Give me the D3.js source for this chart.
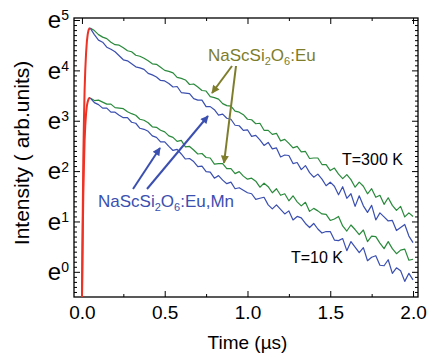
<!DOCTYPE html>
<html>
<head>
<meta charset="utf-8">
<script src="https://cdn.jsdelivr.net/npm/d3@7"></script>
<style>
  body { margin: 0; background: #fff; }
  svg { display: block; font-family: Arial, "Liberation Sans", sans-serif; }
  .tick line { stroke: #000; stroke-width: 1; }
</style>
</head>
<body>
<svg id="chart" width="428" height="356"></svg>
<script>
// sampling of the decay traces (µs)
const sampleStart = 0.05;
const sampleStep = 0.025;

// ln(intensity), T = 300 K
const euHot   = [4.84,4.79,4.71,4.66,4.63,4.56,4.51,4.50,4.45,4.39, 4.37,4.30,4.28,4.24,4.19,4.13,4.12,4.06,4.00,3.98, 3.95,3.86,3.84,3.81,3.72,3.73,3.67,3.60,3.59,3.48, 3.46,3.43,3.34,3.30,3.29,3.19,3.17,3.12,3.03,3.02, 2.94,2.95,2.81,2.81,2.73,2.75,2.60,2.63,2.55,2.46, 2.49,2.38,2.39,2.25,2.26,2.26,2.13,2.13,2.01,2.06, 1.94,1.85,1.93,1.83,1.68,1.78,1.70,1.55,1.65,1.48, 1.52,1.34,1.47,1.32,1.22,1.30,1.09,1.17,1.10];
const euMnHot = [4.84,4.71,4.60,4.56,4.46,4.42,4.37,4.29,4.21,4.19, 4.13,4.07,4.05,4.02,3.94,3.91,3.87,3.80,3.79,3.74, 3.67,3.68,3.56,3.55,3.54,3.44,3.41,3.41,3.28,3.28, 3.22,3.11,3.13,3.05,3.03,2.91,2.90,2.81,2.82,2.69, 2.71,2.62,2.51,2.57,2.44,2.46,2.28,2.32,2.31,2.15, 2.17,2.03,2.11,1.97,1.88,1.94,1.84,1.71,1.78,1.70, 1.53,1.69,1.46,1.55,1.30,1.51,1.31,1.18,1.32,1.03, 1.17,1.09,1.01,1.02,0.82,0.88,0.94,0.71,0.58];
// T = 10 K
const euCold   = [3.45,3.40,3.41,3.37,3.33,3.33,3.26,3.25,3.24,3.18, 3.14,3.11,3.03,3.01,2.96,2.88,2.87,2.81,2.78,2.70, 2.67,2.59,2.61,2.48,2.49,2.42,2.34,2.35,2.27,2.26, 2.14,2.15,2.15,2.05,2.05,1.95,1.99,1.90,1.84,1.86, 1.80,1.68,1.76,1.69,1.57,1.65,1.52,1.55,1.41,1.51, 1.39,1.31,1.38,1.20,1.26,1.21,1.15,1.14,1.02,1.05, 1.10,0.91,0.81,0.93,0.84,0.74,0.83,0.60,0.71,0.70, 0.57,0.46,0.60,0.46,0.36,0.43,0.45,0.23,0.25];
const euMnCold = [3.45,3.36,3.32,3.25,3.25,3.17,3.17,3.11,3.06,3.06, 2.97,2.95,2.85,2.83,2.79,2.70,2.67,2.58,2.58,2.49, 2.41,2.43,2.34,2.24,2.25,2.19,2.09,2.10,1.99,1.98, 1.86,1.91,1.82,1.75,1.78,1.65,1.67,1.62,1.57,1.55, 1.44,1.46,1.48,1.33,1.25,1.33,1.24,1.15,1.21,1.03, 1.10,1.07,0.96,0.88,0.96,0.85,0.77,0.80,0.80,0.63, 0.62,0.66,0.42,0.60,0.49,0.38,0.48,0.22,0.29,0.32, 0.13,0.12,0.24,-0.03,0.08,0.02,-0.19,-0.03,-0.16];

// excitation rise (red)
const riseTime = [0.000,0.004,0.008,0.012,0.016,0.020,0.025,0.030,0.035,0.040,0.045,0.050];
const riseHot  = [-0.6,0.9,2.2,3.0,3.6,4.0,4.35,4.58,4.72,4.80,4.83,4.84];
const riseCold = [-0.6,0.5,1.5,2.1,2.6,2.9,3.15,3.30,3.38,3.43,3.45,3.45];

const xMajor = [0, 0.5, 1.0, 1.5, 2.0];
const xMinor = [0.25, 0.75, 1.25, 1.75];
const yMajor = [0, 1, 2, 3, 4, 5];

const margin = { top: 18, right: 10, bottom: 59, left: 74 };
const svg = d3.select('#chart');
const width = +svg.attr('width') - margin.left - margin.right;
const height = +svg.attr('height') - margin.top - margin.bottom;

const x = d3.scaleLinear().domain([-0.048, 2.03]).range([0, width]);
const y = d3.scaleLinear().domain([-0.5, 5.04]).range([height, 0]);

const yMinor = d3.range(-0.4, 5.04, 0.1).filter(v => Math.abs(v - Math.round(v)) > 0.01);

const g = svg.append('g').attr('transform', `translate(${margin.left},${margin.top})`);

svg.append('defs').append('clipPath').attr('id', 'clip')
  .append('rect').attr('width', width).attr('height', height);

// axes, ticks pointing inward
const addAxis = (axis, tr) => {
  const a = g.append('g').attr('transform', tr).call(axis);
  a.select('.domain').remove();
  return a;
};

const xb = addAxis(d3.axisBottom(x).tickValues(xMajor).tickSizeInner(-6).tickSizeOuter(0)
  .tickPadding(9).tickFormat(d3.format('.1f')), `translate(0,${height})`);
xb.selectAll('text').attr('font-size', 19).attr('fill', '#000');
addAxis(d3.axisBottom(x).tickValues(xMinor).tickSizeInner(-3).tickFormat(''), `translate(0,${height})`);
addAxis(d3.axisTop(x).tickValues(xMajor).tickSizeInner(-6).tickFormat(''), 'translate(0,0)');
addAxis(d3.axisTop(x).tickValues(xMinor).tickSizeInner(-3).tickFormat(''), 'translate(0,0)');

const yl = addAxis(d3.axisLeft(y).tickValues(yMajor).tickSizeInner(-6).tickSizeOuter(0).tickPadding(5), 'translate(0,0)');
yl.selectAll('.tick text').each(function(d) {
  const t = d3.select(this).text(null).attr('fill', '#000').attr('font-size', 24).attr('dy', '0.32em');
  t.append('tspan').text('e');
  t.append('tspan').attr('font-size', 14).attr('dy', '-0.55em').text(d);
});
addAxis(d3.axisLeft(y).tickValues(yMinor).tickSizeInner(-3).tickFormat(''), 'translate(0,0)');
addAxis(d3.axisRight(y).tickValues(yMajor).tickSizeInner(-6).tickFormat(''), `translate(${width},0)`);
addAxis(d3.axisRight(y).tickValues(yMinor).tickSizeInner(-3).tickFormat(''), `translate(${width},0)`);

g.append('rect').attr('width', width).attr('height', height)
  .attr('fill', 'none').attr('stroke', '#000').attr('stroke-width', 1.3);

// traces
const plot = g.append('g').attr('clip-path', 'url(#clip)');
const line = d3.line().x(d => x(d[0])).y(d => y(d[1]));
const trace = vals => vals.map((v, i) => [sampleStart + i * sampleStep, v]);

const series = [
  { data: trace(euHot), color: '#2a8a3c' },
  { data: trace(euMnHot), color: '#3a4fb0' },
  { data: trace(euCold), color: '#2a8a3c' },
  { data: trace(euMnCold), color: '#3a4fb0' }
];
plot.selectAll('path.trace').data(series).enter().append('path')
  .attr('class', 'trace')
  .attr('d', d => line(d.data))
  .attr('fill', 'none').attr('stroke', d => d.color).attr('stroke-width', 1.2)
  .attr('stroke-linejoin', 'round');

[riseHot, riseCold].forEach(r => {
  plot.append('path')
    .attr('d', line(riseTime.map((t, i) => [t, r[i]])))
    .attr('fill', 'none').attr('stroke', '#ee3224').attr('stroke-width', 2);
});

// annotations
const defs = svg.select('defs');
const marker = (id, color) => defs.append('marker').attr('id', id)
  .attr('viewBox', '0 0 10 10').attr('refX', 9).attr('refY', 5)
  .attr('markerWidth', 10).attr('markerHeight', 8).attr('markerUnits', 'userSpaceOnUse')
  .attr('orient', 'auto')
  .append('path').attr('d', 'M0,0 L10,5 L0,10 Z').attr('fill', color);
const olive = '#7d7d2c';
const blue = '#3a4fb0';
marker('headOlive', olive);
marker('headBlue', blue);

const arrow = (x1, y1, x2, y2, color, id) => svg.append('line')
  .attr('x1', x1).attr('y1', y1).attr('x2', x2).attr('y2', y2)
  .attr('stroke', color).attr('stroke-width', 2).attr('marker-end', `url(#${id})`);

arrow(232, 66, 212, 93, olive, 'headOlive');
arrow(236, 66, 224, 163, olive, 'headOlive');
arrow(133, 189, 160, 148, blue, 'headBlue');
arrow(147, 189, 208, 116, blue, 'headBlue');

const formula = (tx, ty, color, tail) => {
  const t = svg.append('text').attr('x', tx).attr('y', ty).attr('fill', color).attr('font-size', 17);
  t.append('tspan').text('NaScSi');
  t.append('tspan').attr('font-size', 11).attr('dy', 4).text('2');
  t.append('tspan').attr('dy', -4).text('O');
  t.append('tspan').attr('font-size', 11).attr('dy', 4).text('6');
  t.append('tspan').attr('dy', -4).text(tail);
};
formula(208, 61, olive, ':Eu');
formula(98, 207, blue, ':Eu,Mn');

svg.append('text').attr('x', 342).attr('y', 165).attr('font-size', 16).text('T=300 K');
svg.append('text').attr('x', 291).attr('y', 263).attr('font-size', 16).text('T=10 K');

// axis titles
svg.append('text').attr('x', margin.left + x(1.0)).attr('y', 349)
  .attr('text-anchor', 'middle').attr('font-size', 19).text('Time (µs)');
svg.append('text').attr('transform', 'translate(29,153) rotate(-90)')
  .attr('text-anchor', 'middle').attr('font-size', 21).text('Intensity ( arb.units)');
</script>
</body>
</html>
